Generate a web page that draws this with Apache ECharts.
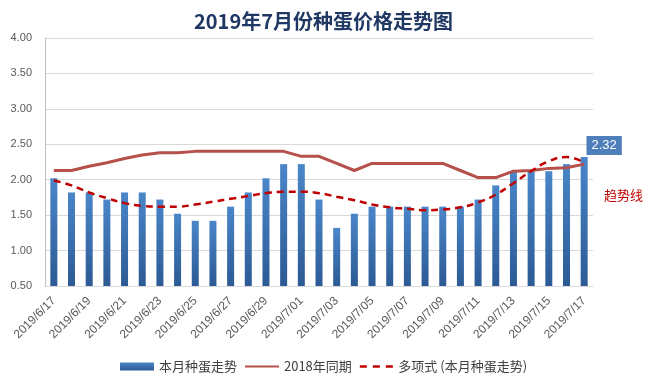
<!DOCTYPE html>
<html><head><meta charset="utf-8">
<script src="https://cdn.jsdelivr.net/npm/echarts@6/dist/echarts.min.js"></script>
<style>html,body{margin:0;padding:0;background:#fff}#c{width:647px;height:389px}</style>
</head><body><div id="c"></div>
<script>
const categories = ['2019/6/17','2019/6/18','2019/6/19','2019/6/20','2019/6/21','2019/6/22','2019/6/23','2019/6/24','2019/6/25','2019/6/26','2019/6/27','2019/6/28','2019/6/29','2019/6/30','2019/7/01','2019/7/02','2019/7/03','2019/7/04','2019/7/05','2019/7/06','2019/7/07','2019/7/08','2019/7/09','2019/7/10','2019/7/11','2019/7/12','2019/7/13','2019/7/14','2019/7/15','2019/7/16','2019/7/17'];
const thisMonth = [2.02,1.82,1.82,1.72,1.82,1.82,1.72,1.52,1.42,1.42,1.62,1.82,2.02,2.22,2.22,1.72,1.32,1.52,1.62,1.62,1.62,1.62,1.62,1.62,1.72,1.92,2.12,2.12,2.12,2.22,2.32];
const lastYear = [2.13,2.13,2.19,2.24,2.30,2.35,2.38,2.38,2.40,2.40,2.40,2.40,2.40,2.40,2.33,2.33,2.23,2.13,2.23,2.23,2.23,2.23,2.23,2.13,2.03,2.03,2.12,2.13,2.16,2.17,2.22];
const trend = [1.99,1.92,1.82,1.74,1.67,1.63,1.62,1.62,1.65,1.69,1.73,1.77,1.81,1.83,1.83,1.81,1.76,1.71,1.65,1.61,1.59,1.57,1.58,1.61,1.68,1.79,1.95,2.12,2.26,2.32,2.24];
const yTicks = {min:0.5, max:4, interval:0.5};
const seriesNames = ['本月种蛋走势','2018年同期','多项式 (本月种蛋走势)'];

const chart = echarts.init(document.getElementById('c'), null, {renderer:'canvas'});
const lastIdx = thisMonth.length - 1;
const solidIcon = 'path://M0,0L0.01,0L0.01,0.01Z M0,3H34V5H0Z M0,8L0.01,8L0.01,7.99Z';
const dashIcon = 'path://M0,0L0.01,0L0.01,0.01Z M0,2.8H7V5.2H0Z M13,2.8H20V5.2H13Z M26,2.8H33V5.2H26Z M0,8L0.01,8L0.01,7.99Z';
chart.setOption({
  animation:false,
  backgroundColor:'#fff',
  title:{text:'2019年7月份种蛋价格走势图',left:'center',top:6,
    textStyle:{fontFamily:'Noto Sans CJK SC',fontWeight:'bold',fontSize:20,color:'#1f3864'}},
  grid:{left:45,right:54,top:38,bottom:103},
  legend:{bottom:11,left:'center',itemGap:8,itemWidth:34,itemHeight:8,
    textStyle:{fontFamily:'Noto Sans CJK SC',fontSize:13,color:'#404040'},
    data:[{name:seriesNames[0],icon:'rect'},{name:seriesNames[1],icon:solidIcon},{name:seriesNames[2],icon:dashIcon}]},
  xAxis:{type:'category',data:categories,
    axisLine:{show:false},axisTick:{show:false},
    axisLabel:{interval:1,rotate:45,fontSize:12,color:'#595959',fontFamily:'Liberation Sans',margin:13}},
  yAxis:{type:'value',min:yTicks.min,max:yTicks.max,interval:yTicks.interval,
    axisLine:{show:true,lineStyle:{color:'#bfbfbf'}},axisTick:{show:false},
    axisLabel:{formatter:v=>v.toFixed(2),fontSize:11,color:'#595959',fontFamily:'Liberation Sans',margin:13},
    splitLine:{lineStyle:{color:'#d9d9d9'}}},
  series:[
    {name:seriesNames[0],type:'bar',barWidth:7,
      itemStyle:{color:new echarts.graphic.LinearGradient(0,0,0,1,[{offset:0,color:'#4a86c9'},{offset:1,color:'#2c5a94'}])},
      data:thisMonth.map((v,i)=>i===lastIdx?{value:v,label:{show:true,position:'top',offset:[20,3],
        formatter:p=>p.value.toFixed(2),backgroundColor:'#4f7fba',color:'#fff',fontSize:13,
        fontFamily:'Liberation Sans',padding:[3,5]}}:v)},
    {name:seriesNames[1],type:'line',data:lastYear,symbol:'none',
      lineStyle:{color:'#b5504a',width:3},itemStyle:{color:'#b5504a'}},
    {name:seriesNames[2],type:'line',data:trend,symbol:'none',smooth:true,
      lineStyle:{color:'#c00000',width:2.5,type:[7,5]},itemStyle:{color:'#c00000'}}
  ],
  graphic:[{type:'text',left:604,top:189,style:{text:'趋势线',fill:'#c00000',fontSize:13,fontFamily:'Noto Sans CJK SC'}}]
});
</script></body></html>
